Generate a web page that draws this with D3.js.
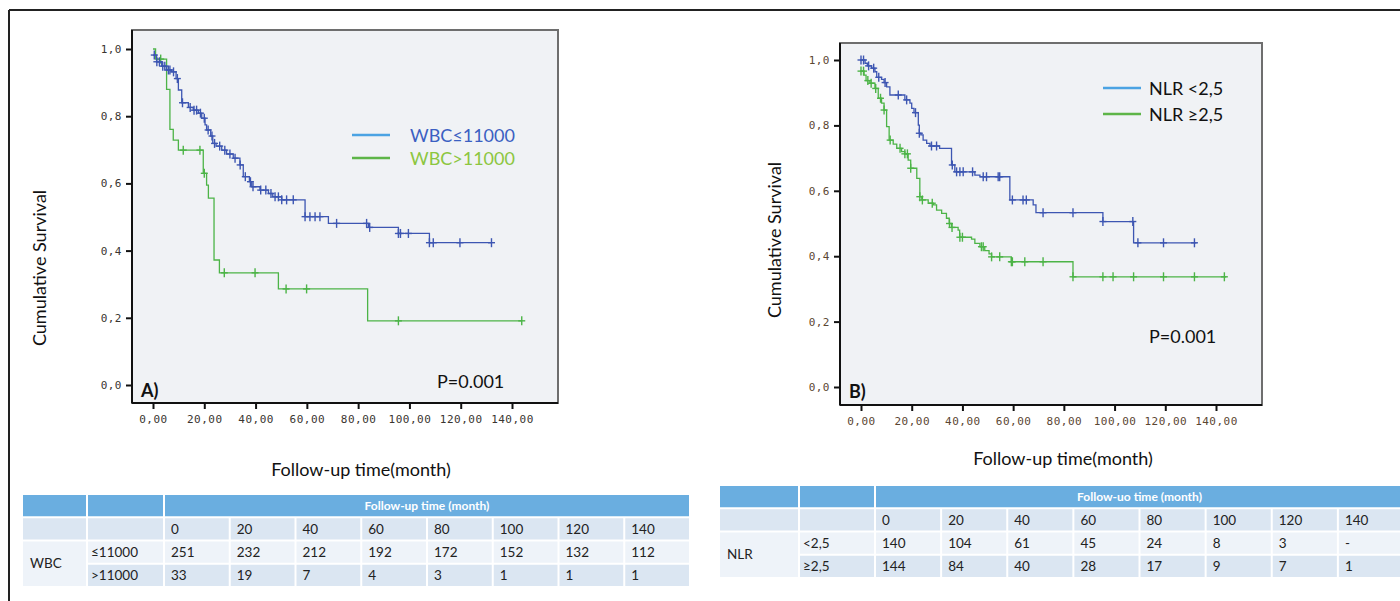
<!DOCTYPE html>
<html>
<head>
<meta charset="utf-8">
<script src="https://cdn.jsdelivr.net/npm/d3@7"></script>
<style>
  html, body { margin: 0; padding: 0; background: #fff; }
  svg { display: block; }
</style>
</head>
<body>
<svg id="chart" width="1400" height="601"></svg>
<script>
// ---------------- DATA ----------------
const xTicks = [0, 20, 40, 60, 80, 100, 120, 140];
const yTicks = [0, 0.2, 0.4, 0.6, 0.8, 1.0];

// Panel A : WBC <= 11000
const wbcLowTimes = [0, 1.4, 3.4, 5.3, 7.3, 9, 9.9, 11.2, 13.8, 15.7, 17.7, 19, 20.3, 20.9, 22.5, 23.3, 24.6, 26.8, 28.7, 31.3, 33.9, 35.2, 37.6, 38.5, 41.7, 45, 46.7, 50.2, 59.3, 68.4, 84, 95.7, 107.8, 132];
const wbcLowSurv  = [0.982, 0.962, 0.949, 0.9375, 0.932, 0.912, 0.878, 0.840, 0.826, 0.818, 0.809, 0.794, 0.774, 0.759, 0.741, 0.719, 0.711, 0.699, 0.6875, 0.675, 0.655, 0.620, 0.605, 0.590, 0.580, 0.570, 0.560, 0.551, 0.501, 0.481, 0.469, 0.451, 0.4235, 0.4235];
const wbcLowCensor = [0.5, 1.5, 2.5, 3.8, 4.6, 6, 6.6, 8, 9.5, 11.5, 14.5, 16, 17, 18.5, 20, 21.5, 23, 24, 26, 28, 30, 32, 34, 36, 38, 39, 42, 44, 46, 47.6, 48.9, 50.2, 52.1, 54.7, 59.3, 61.2, 63.2, 65.1, 71.6, 83.3, 84.5, 95.7, 96.5, 99.6, 107.8, 109.3, 119.7, 132];

// Panel A : WBC > 11000
const wbcHighTimes = [0, 1, 5.3, 6.6, 7.9, 9.9, 19.6, 20.9, 21.6, 23.8, 25.9, 48.9, 83.7, 143.8];
const wbcHighSurv  = [1.0, 0.97, 0.88, 0.761, 0.729, 0.699, 0.630, 0.595, 0.556, 0.372, 0.334, 0.286, 0.191, 0.191];
const wbcHighCensor = [3, 11.8, 18.3, 20, 27.8, 39.8, 51.9, 59.9, 95.7, 143.8];

// Panel B : NLR < 2,5
const nlrLowTimes = [0, 1.6, 2.5, 4.2, 5.5, 6.2, 8.1, 9.1, 10.1, 11.4, 17.3, 19.3, 20, 20.9, 22.6, 23, 23.6, 24.5, 25.9, 27.2, 31, 35.7, 37, 44.9, 46.9, 58.7, 67.9, 69, 95.4, 107.5, 132.3];
const nlrLowSurv  = [1.0, 0.99, 0.982, 0.975, 0.964, 0.947, 0.941, 0.931, 0.918, 0.893, 0.878, 0.868, 0.852, 0.839, 0.801, 0.776, 0.771, 0.755, 0.745, 0.737, 0.730, 0.679, 0.658, 0.648, 0.643, 0.572, 0.557, 0.533, 0.506, 0.441, 0.441];
const nlrLowCensor = [0, 1, 3, 5, 7, 9.5, 14.7, 18, 21.5, 23, 27.8, 29.8, 36, 37.7, 39, 40.3, 44, 48.2, 49.5, 54.1, 54.7, 59.7, 63.9, 65.2, 71.8, 83.6, 95.4, 107.2, 109.2, 119.3, 131.5];

// Panel B : NLR >= 2,5
const nlrHighTimes = [0, 1.2, 2, 3.5, 5.5, 6.8, 8.1, 9.1, 10.1, 11.1, 12.7, 14.1, 16, 17.3, 18.6, 19.6, 22, 23.2, 24, 26.5, 28.5, 29.8, 31.8, 33.7, 34.8, 35.7, 38.3, 38.9, 43.6, 44.9, 46.9, 48.8, 50.5, 51.5, 59.3, 83.6, 144];
const nlrHighSurv  = [0.966, 0.954, 0.937, 0.929, 0.913, 0.883, 0.868, 0.847, 0.796, 0.755, 0.743, 0.730, 0.720, 0.713, 0.694, 0.669, 0.638, 0.582, 0.572, 0.562, 0.557, 0.541, 0.531, 0.516, 0.500, 0.488, 0.480, 0.458, 0.452, 0.439, 0.429, 0.417, 0.407, 0.398, 0.383, 0.337, 0.337];
const nlrHighCensor = [0, 1, 2.7, 4, 5.8, 7.7, 9.1, 11.5, 15.4, 17.3, 18.3, 19.6, 23.2, 24.2, 28.1, 34.9, 35.9, 39, 40, 47.5, 48.2, 51.5, 54.7, 59.3, 59.7, 64.6, 71.8, 83.6, 95.4, 99.4, 107.5, 119.3, 131.5, 143.3];

// Tables
const tableTimes = ["0", "20", "40", "60", "80", "100", "120", "140"];
const wbcGroups = ["≤11000", ">11000"];
const wbcAtRisk = [
  ["251", "232", "212", "192", "172", "152", "132", "112"],
  ["33", "19", "7", "4", "3", "1", "1", "1"]
];
const nlrGroups = ["<2,5", "≥2,5"];
const nlrAtRisk = [
  ["140", "104", "61", "45", "24", "8", "3", "-"],
  ["144", "84", "40", "28", "17", "9", "7", "1"]
];

// ---------------- DRAWING ----------------
const svg = d3.select("#chart");
const FONT = "Lato, 'Open Sans', sans-serif";
const MONO = "'DejaVu Sans Mono', monospace";
const BLUE = "#3d56b2", GREEN = "#4cb447";

// outer frame
svg.append("line").attr("x1", 9).attr("x2", 1400).attr("y1", 10).attr("y2", 10)
  .attr("stroke", "#222").attr("stroke-width", 2);
svg.append("line").attr("x1", 9).attr("x2", 9).attr("y1", 10).attr("y2", 601)
  .attr("stroke", "#222").attr("stroke-width", 2);

function fmtY(v) { return d3.format(".1f")(v).replace(".", ","); }
function fmtX(v) { return d3.format(".2f")(v).replace(".", ","); }

function stepValue(times, surv, t) {
  let v = surv[0];
  for (let i = 0; i < times.length; i++) { if (times[i] <= t) v = surv[i]; }
  return v;
}

function panel(cfg) {
  const g = svg.append("g");
  const x = d3.scaleLinear().domain([0, 140]).range([cfg.x0, cfg.x140]);
  const y = d3.scaleLinear().domain([0, 1]).range([cfg.y0, cfg.y1]);

  // plot background & frame
  g.append("rect").attr("x", cfg.left).attr("y", cfg.top)
    .attr("width", cfg.right - cfg.left).attr("height", cfg.bottom - cfg.top)
    .attr("fill", "#f0f2f5").attr("stroke", "#6e6e6e").attr("stroke-width", 2);

  // axes
  const yAxis = d3.axisLeft(y).tickValues(yTicks).tickSize(6).tickPadding(4).tickFormat(fmtY);
  const ya = g.append("g").attr("transform", `translate(${cfg.left},0)`).call(yAxis);
  ya.select(".domain").attr("stroke", "#111").attr("stroke-width", 2)
    .attr("d", `M0,${cfg.top}V${cfg.bottom}`);
  ya.selectAll(".tick line").attr("stroke", "#111").attr("stroke-width", 2);
  ya.selectAll(".tick text").attr("font-family", MONO).attr("font-size", 11)
    .attr("fill", cfg.tickColor).attr("letter-spacing", 0.5);

  const xAxis = d3.axisBottom(x).tickValues(xTicks).tickSize(6).tickPadding(6).tickFormat(fmtX);
  const xa = g.append("g").attr("transform", `translate(0,${cfg.bottom})`).call(xAxis);
  xa.select(".domain").attr("stroke", "#111").attr("stroke-width", 2)
    .attr("d", `M${cfg.left},0H${cfg.right}`);
  xa.selectAll(".tick line").attr("stroke", "#111").attr("stroke-width", 2);
  xa.selectAll(".tick text").attr("font-family", MONO).attr("font-size", 11)
    .attr("fill", cfg.tickColor).attr("letter-spacing", 0.5);

  // curves
  const line = d3.line().x(d => x(d[0])).y(d => y(d[1])).curve(d3.curveStepAfter);
  cfg.series.forEach(s => {
    const pts = s.times.map((t, i) => [t, s.surv[i]]);
    g.append("path").attr("d", line(pts)).attr("fill", "none")
      .attr("stroke", s.color).attr("stroke-width", 1.3);
    const cg = g.append("g");
    s.censor.forEach(t => {
      const cx = x(t), cy = y(stepValue(s.times, s.surv, t));
      cg.append("line").attr("x1", cx).attr("x2", cx).attr("y1", cy - 4.5).attr("y2", cy + 4.5)
        .attr("stroke", s.color).attr("stroke-width", 1.4);
      cg.append("line").attr("x1", cx - 3.5).attr("x2", cx + 3.5).attr("y1", cy).attr("y2", cy)
        .attr("stroke", s.color).attr("stroke-width", 1.4);
    });
  });

  // legend
  cfg.legend.forEach((l, i) => {
    g.append("line").attr("x1", cfg.legX).attr("x2", cfg.legX + 38)
      .attr("y1", cfg.legY + i * cfg.legDy).attr("y2", cfg.legY + i * cfg.legDy)
      .attr("stroke", l.lineColor).attr("stroke-width", 2.5);
    g.append("text").attr("x", cfg.legTextX).attr("y", cfg.legY + i * cfg.legDy + 7)
      .attr("font-family", FONT).attr("font-size", 18).attr("fill", l.textColor).text(l.label);
  });

  // panel letter & p-value
  g.append("text").attr("x", cfg.left + 9).attr("y", cfg.letterY)
    .attr("font-family", FONT).attr("font-size", 18).attr("font-weight", "bold")
    .attr("fill", "#111").text(cfg.letter);
  g.append("text").attr("x", cfg.pX).attr("y", cfg.pY)
    .attr("font-family", FONT).attr("font-size", 18).attr("fill", "#111").text("P=0.001");

  // axis titles
  g.append("text").attr("transform", `translate(${cfg.yTitleX},${cfg.yTitleY}) rotate(-90)`)
    .attr("text-anchor", "middle").attr("font-family", FONT).attr("font-size", 18)
    .attr("fill", "#111").text("Cumulative Survival");
  g.append("text").attr("x", cfg.xTitleX).attr("y", cfg.xTitleY)
    .attr("text-anchor", "middle").attr("font-family", FONT).attr("font-size", 18)
    .attr("fill", "#111").text("Follow-up time(month)");
}

panel({
  left: 132, top: 30, right: 558, bottom: 403,
  x0: 153, x140: 512, y0: 385, y1: 49,
  tickColor: "#3a3530",
  series: [
    { times: wbcHighTimes, surv: wbcHighSurv, censor: wbcHighCensor, color: GREEN },
    { times: wbcLowTimes, surv: wbcLowSurv, censor: wbcLowCensor, color: BLUE }
  ],
  legend: [
    { label: "WBC≤11000", lineColor: "#4ba3e3", textColor: "#3b5fc2" },
    { label: "WBC>11000", lineColor: "#5db548", textColor: "#8cc640" }
  ],
  legX: 352, legY: 135, legDy: 23, legTextX: 410,
  letter: "A)", letterY: 397, pX: 437, pY: 388,
  yTitleX: 46, yTitleY: 268, xTitleX: 361, xTitleY: 476
});

panel({
  left: 840, top: 43, right: 1262, bottom: 405,
  x0: 861, x140: 1216, y0: 387, y1: 60,
  tickColor: "#5b4632",
  series: [
    { times: nlrHighTimes, surv: nlrHighSurv, censor: nlrHighCensor, color: GREEN },
    { times: nlrLowTimes, surv: nlrLowSurv, censor: nlrLowCensor, color: BLUE }
  ],
  legend: [
    { label: "NLR <2,5", lineColor: "#4ba3e3", textColor: "#111" },
    { label: "NLR ≥2,5", lineColor: "#5db548", textColor: "#111" }
  ],
  legX: 1103, legY: 88, legDy: 26, legTextX: 1149,
  letter: "B)", letterY: 398, pX: 1149, pY: 343,
  yTitleX: 781, yTitleY: 240, xTitleX: 1063, xTitleY: 465
});

// ---------------- TABLES ----------------
function table(cfg) {
  const g = svg.append("g");
  const HEAD = "#6aaee0", LIGHT = "#dbe6f2", LIGHTER = "#eef3f9";
  const col = d3.scaleBand().domain(tableTimes).range([cfg.c2, cfg.end]);
  const row = d3.scaleBand().domain(["head", "time", "g0", "g1"]).range([cfg.top, cfg.bottom]);
  const gap = 1;
  const rowFill = { head: HEAD, time: LIGHT, g0: LIGHTER, g1: LIGHT };

  ["head", "time", "g0", "g1"].forEach(r => {
    const yy = row(r) + gap, hh = row.bandwidth() - 2 * gap;
    if (r === "head" || r === "time") {
      g.append("rect").attr("x", cfg.c0 + gap).attr("y", yy).attr("width", cfg.c1 - cfg.c0 - 2 * gap)
        .attr("height", hh).attr("fill", rowFill[r]);
    }
    g.append("rect").attr("x", cfg.c1 + gap).attr("y", yy).attr("width", cfg.c2 - cfg.c1 - 2 * gap)
      .attr("height", hh).attr("fill", rowFill[r]);
    if (r === "head") {
      g.append("rect").attr("x", cfg.c2 + gap).attr("y", yy).attr("width", cfg.end - cfg.c2 - 2 * gap)
        .attr("height", hh).attr("fill", HEAD);
    } else {
      tableTimes.forEach(t => {
        g.append("rect").attr("x", col(t) + gap).attr("y", yy).attr("width", col.bandwidth() - 2 * gap)
          .attr("height", hh).attr("fill", rowFill[r]);
      });
    }
  });
  g.append("rect").attr("x", cfg.c0 + gap).attr("y", row("g0") + gap)
    .attr("width", cfg.c1 - cfg.c0 - 2 * gap).attr("height", 2 * row.bandwidth() - 2 * gap)
    .attr("fill", LIGHTER);

  const txt = (xx, yy, s, opts = {}) => g.append("text").attr("x", xx).attr("y", yy)
    .attr("dy", "0.35em").attr("font-family", FONT).attr("font-size", opts.size || 13.5)
    .attr("font-weight", opts.bold ? "bold" : "normal")
    .attr("text-anchor", opts.anchor || "start").attr("fill", opts.fill || "#222").text(s);

  txt((cfg.c2 + cfg.end) / 2, row("head") + row.bandwidth() / 2, cfg.title,
      { bold: true, anchor: "middle", fill: "#fff", size: 12 });
  tableTimes.forEach(t => txt(col(t) + 7, row("time") + row.bandwidth() / 2, t));
  txt(cfg.c0 + 8, row("g1"), cfg.name);
  cfg.groups.forEach((gr, i) => {
    const r = "g" + i;
    txt(cfg.c1 + 4, row(r) + row.bandwidth() / 2, gr);
    cfg.values[i].forEach((v, j) => txt(col(tableTimes[j]) + 7, row(r) + row.bandwidth() / 2, v));
  });
}

table({ c0: 22, c1: 87, c2: 164, end: 690, top: 494, bottom: 587,
        title: "Follow-up time (month)", name: "WBC", groups: wbcGroups, values: wbcAtRisk });
table({ c0: 719, c1: 799, c2: 875, end: 1404, top: 485, bottom: 578,
        title: "Follow-uo time (month)", name: "NLR", groups: nlrGroups, values: nlrAtRisk });
</script>
</body>
</html>
